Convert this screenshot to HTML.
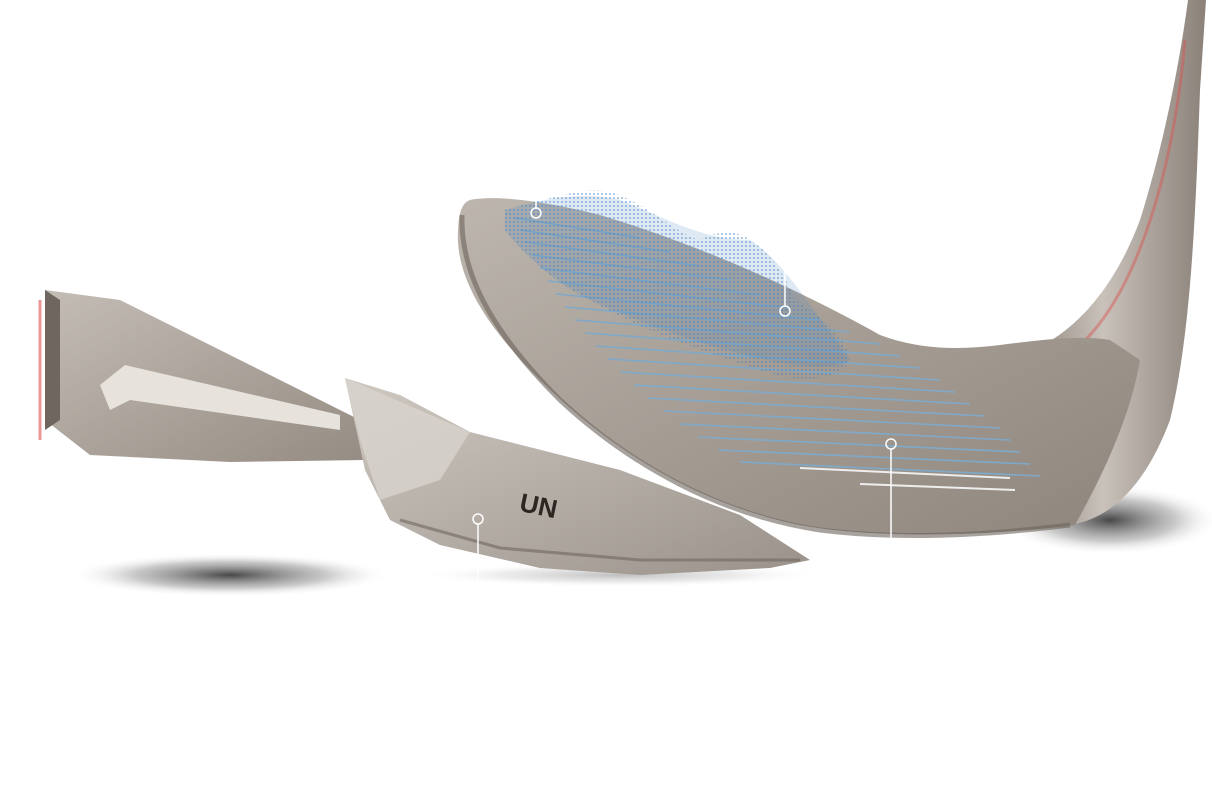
<!DOCTYPE html>
<html><head><meta charset="utf-8"><style>
html,body{margin:0;padding:0;background:#fff;width:1212px;height:792px;overflow:hidden}
svg{display:block}
</style></head><body>
<svg width="1212" height="792" viewBox="0 0 1212 792" xmlns="http://www.w3.org/2000/svg">
<defs>
<radialGradient id="sh1" cx="0.5" cy="0.5" r="0.5"><stop offset="0" stop-color="#333" stop-opacity="0.9"/><stop offset="0.6" stop-color="#777" stop-opacity="0.4"/><stop offset="1" stop-color="#fff" stop-opacity="0"/></radialGradient>
<linearGradient id="face" x1="0" y1="0" x2="1" y2="1"><stop offset="0" stop-color="#bdb6ae"/><stop offset="0.5" stop-color="#a59d94"/><stop offset="1" stop-color="#8e857c"/></linearGradient>
<linearGradient id="hosel" x1="0" y1="0" x2="1" y2="0"><stop offset="0" stop-color="#7d746c"/><stop offset="0.5" stop-color="#c9c2ba"/><stop offset="1" stop-color="#8a8179"/></linearGradient>
<linearGradient id="lp" x1="0" y1="0" x2="1" y2="1"><stop offset="0" stop-color="#c4bdb5"/><stop offset="1" stop-color="#958c83"/></linearGradient>
<linearGradient id="mp" x1="0" y1="0" x2="1" y2="1"><stop offset="0" stop-color="#cfc9c2"/><stop offset="1" stop-color="#9a928a"/></linearGradient>
<pattern id="dots" width="4" height="4" patternUnits="userSpaceOnUse"><circle cx="2" cy="2" r="1" fill="#3f7fbf"/></pattern>
</defs>
<ellipse cx="230" cy="575" rx="160" ry="22" fill="url(#sh1)"/>
<ellipse cx="620" cy="575" rx="200" ry="12" fill="url(#sh1)" opacity="0.35"/>
<ellipse cx="1110" cy="520" rx="110" ry="35" fill="url(#sh1)"/>
<!-- hosel -->
<path d="M1188 0 L1206 0 L1200 90 C1196 200 1192 330 1170 420 C1140 500 1100 520 1070 525 L1000 360 C1060 350 1110 300 1140 220 C1165 140 1180 60 1188 0 Z" fill="url(#hosel)"/>
<path d="M1185 40 C1175 160 1140 290 1080 345" stroke="#d9534f" stroke-width="3" fill="none" opacity="0.45"/>
<!-- main head -->
<path d="M470 200 C495 195 540 200 600 215 C700 245 800 290 880 335 C920 350 960 350 1000 345 C1040 340 1080 335 1110 340 L1140 360 C1130 420 1100 480 1075 525 C1000 535 880 540 800 525 C700 505 610 450 540 380 C490 330 455 280 458 230 C459 212 462 203 470 200 Z" fill="url(#face)"/>
<path d="M462 215 C460 280 500 340 560 400 C630 465 720 515 820 530 C900 540 990 535 1070 525" stroke="#6c645c" stroke-width="5" fill="none" opacity="0.6"/>
<g stroke="#7fa9c9" stroke-width="1.6">
<line x1="515" y1="218" x2="640" y2="238"/>
<line x1="520" y1="230" x2="670" y2="252"/>
<line x1="525" y1="242" x2="700" y2="266"/>
<line x1="532" y1="255" x2="730" y2="280"/>
<line x1="540" y1="268" x2="760" y2="295"/>
<line x1="548" y1="281" x2="790" y2="308"/>
<line x1="556" y1="294" x2="820" y2="320"/>
<line x1="565" y1="307" x2="850" y2="332"/>
<line x1="575" y1="320" x2="880" y2="344"/>
<line x1="585" y1="333" x2="900" y2="356"/>
<line x1="596" y1="346" x2="920" y2="368"/>
<line x1="608" y1="359" x2="940" y2="380"/>
<line x1="620" y1="372" x2="955" y2="392"/>
<line x1="634" y1="385" x2="970" y2="404"/>
<line x1="648" y1="398" x2="985" y2="416"/>
<line x1="664" y1="411" x2="1000" y2="428"/>
<line x1="680" y1="424" x2="1010" y2="440"/>
<line x1="698" y1="437" x2="1020" y2="452"/>
<line x1="718" y1="450" x2="1030" y2="464"/>
<line x1="740" y1="462" x2="1040" y2="476"/>
</g>
<line x1="800" y1="468" x2="1010" y2="478" stroke="#eee" stroke-width="2"/>
<line x1="860" y1="484" x2="1015" y2="490" stroke="#eee" stroke-width="2"/>
<!-- blue scan cloud -->
<path d="M505 210 C540 200 560 195 580 192 C600 188 615 192 630 200 C660 215 680 235 700 240 C715 232 735 228 750 240 C770 252 785 275 795 300 C820 315 845 335 850 360 C840 380 800 385 760 370 C700 350 640 330 590 300 C550 280 520 250 505 230 Z" fill="url(#dots)" opacity="0.55"/>
<path d="M505 210 C540 200 580 190 620 200 C660 215 700 240 750 240 C780 260 800 290 850 360 C820 380 700 350 590 300 C550 280 520 250 505 230 Z" fill="#4a86c0" opacity="0.18"/>
<!-- left piece -->
<path d="M45 290 L120 300 L360 420 L365 460 L230 462 L90 455 L45 420 Z" fill="url(#lp)"/>
<path d="M100 385 L125 365 L340 415 L340 430 L130 400 L110 410 Z" fill="#e7e2dc"/>
<path d="M45 290 L60 300 L60 420 L45 430 Z" fill="#6f675f"/>
<path d="M40 300 L40 440" stroke="#d9534f" stroke-width="3" opacity="0.6"/>
<!-- middle piece -->
<path d="M345 378 L400 395 L470 432 L620 470 L740 515 L810 560 L770 568 L640 575 L540 568 L440 545 L390 520 L365 470 Z" fill="url(#mp)"/>
<path d="M345 378 L360 440 L380 500 L440 480 L470 432 Z" fill="#d8d3cd" opacity="0.8"/>
<path d="M400 520 L500 548 L640 560 L800 560" stroke="#6f675f" stroke-width="3" fill="none" opacity="0.6"/>
<text x="520" y="515" font-family="Liberation Sans, sans-serif" font-size="26" font-weight="bold" fill="#2b2622" transform="rotate(12 540 505)">UN</text>
<!-- callouts -->
<g stroke="#fff" stroke-width="1.5" fill="none">
<line x1="536" y1="200" x2="536" y2="208"/><circle cx="536" cy="213" r="5"/>
<line x1="785" y1="270" x2="785" y2="306"/><circle cx="785" cy="311" r="5"/>
<line x1="478" y1="524" x2="478" y2="598"/><circle cx="478" cy="519" r="5"/>
<line x1="891" y1="449" x2="891" y2="600"/><circle cx="891" cy="444" r="5"/>
</g>
</svg>
</body></html>
